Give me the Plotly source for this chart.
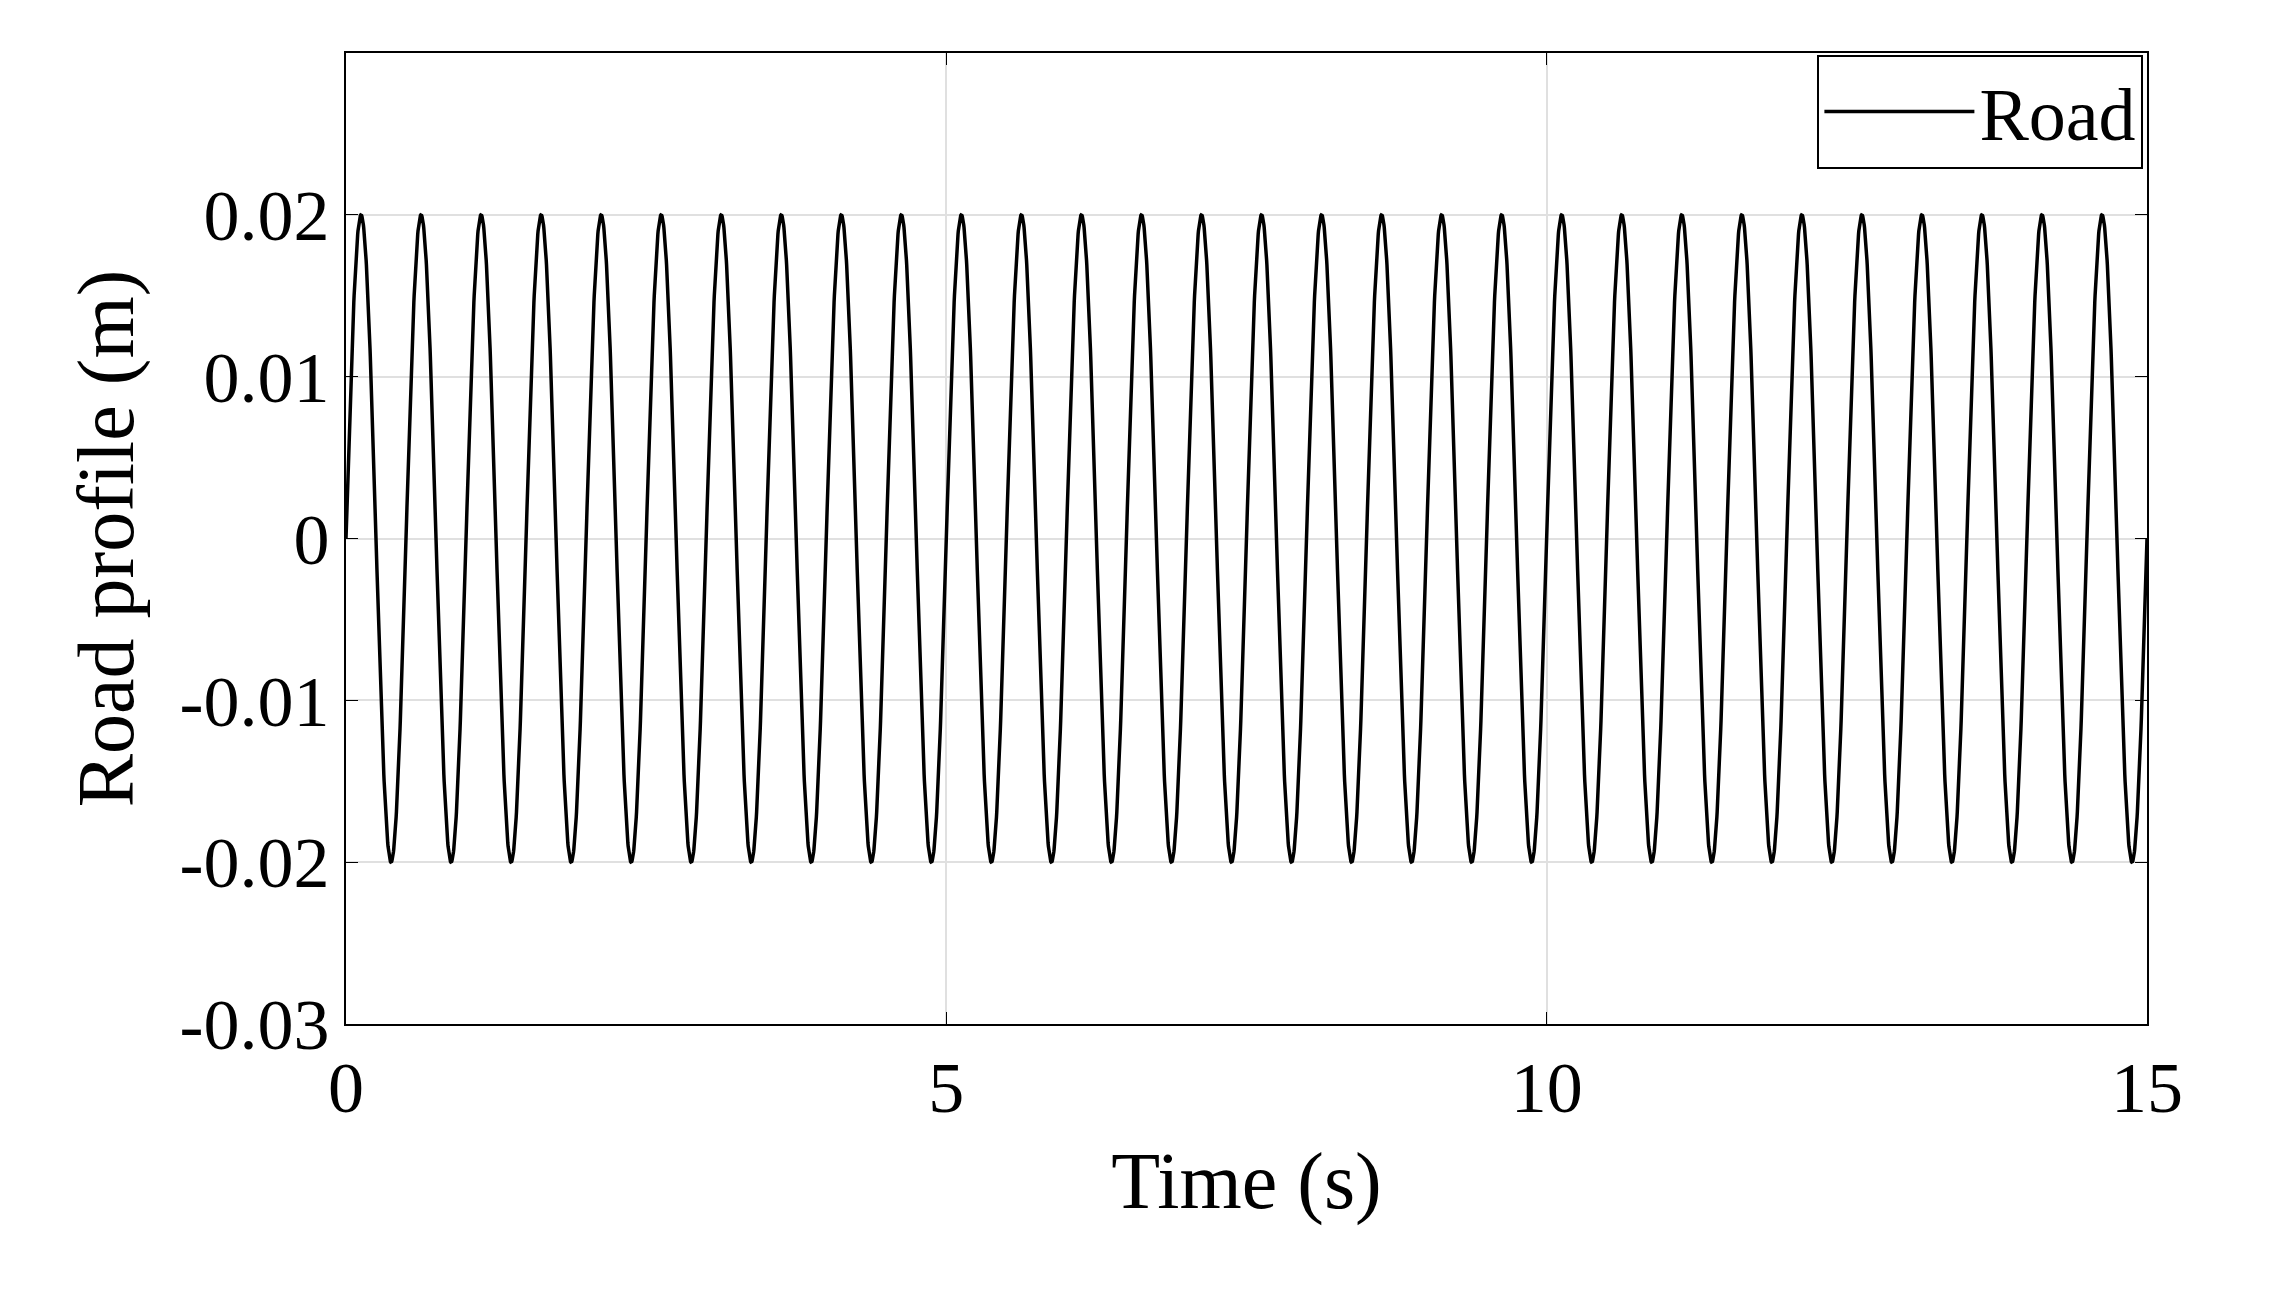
import numpy as np
import plotly.graph_objects as go

# Values: sinusoidal road profile
amplitude_m = 0.02      # peak height
frequency_hz = 2.0      # 30 cycles over 15 s
t_start, t_end = 0.0, 15.0
x_ticks = [0, 5, 10, 15]
y_ticks = [-0.03, -0.02, -0.01, 0, 0.01, 0.02]
y_tick_labels = ["-0.03", "-0.02", "-0.01", "0", "0.01", "0.02"]

t = np.linspace(t_start, t_end, 6001)
y = amplitude_m * np.sin(2 * np.pi * frequency_hz * t)

fig = go.Figure(go.Scatter(x=t, y=y, mode="lines", name="Road",
                           line=dict(color="black", width=3.5)))

font = "Liberation Serif, Times New Roman, serif"
axis_common = dict(showline=True, linecolor="black", linewidth=2, mirror="ticks",
                   ticks="inside", ticklen=12, tickcolor="black",
                   showgrid=True, gridcolor="#e0e0e0", gridwidth=1.5, zeroline=False,
                   tickfont=dict(family=font, size=72, color="black"))
fig.update_layout(
    width=2270, height=1292, paper_bgcolor="white", plot_bgcolor="white",
    margin=dict(l=338, r=131, t=45, b=276),
    font=dict(family=font, color="black"),
    xaxis=dict(range=[t_start, t_end], tickvals=x_ticks,
               title=dict(text="Time (s)", font=dict(family=font, size=80), standoff=25),
               **axis_common),
    yaxis=dict(range=[-0.03, 0.03], tickvals=y_ticks, ticktext=y_tick_labels,
               title=dict(text="Road profile (m)", font=dict(family=font, size=80), standoff=20),
               **axis_common),
    showlegend=True,
    legend=dict(x=0.998, y=0.998, xanchor="right", yanchor="top",
                bgcolor="white", bordercolor="black", borderwidth=2,
                font=dict(family=font, size=74), itemwidth=150),
)
fig.write_html("out.html")
